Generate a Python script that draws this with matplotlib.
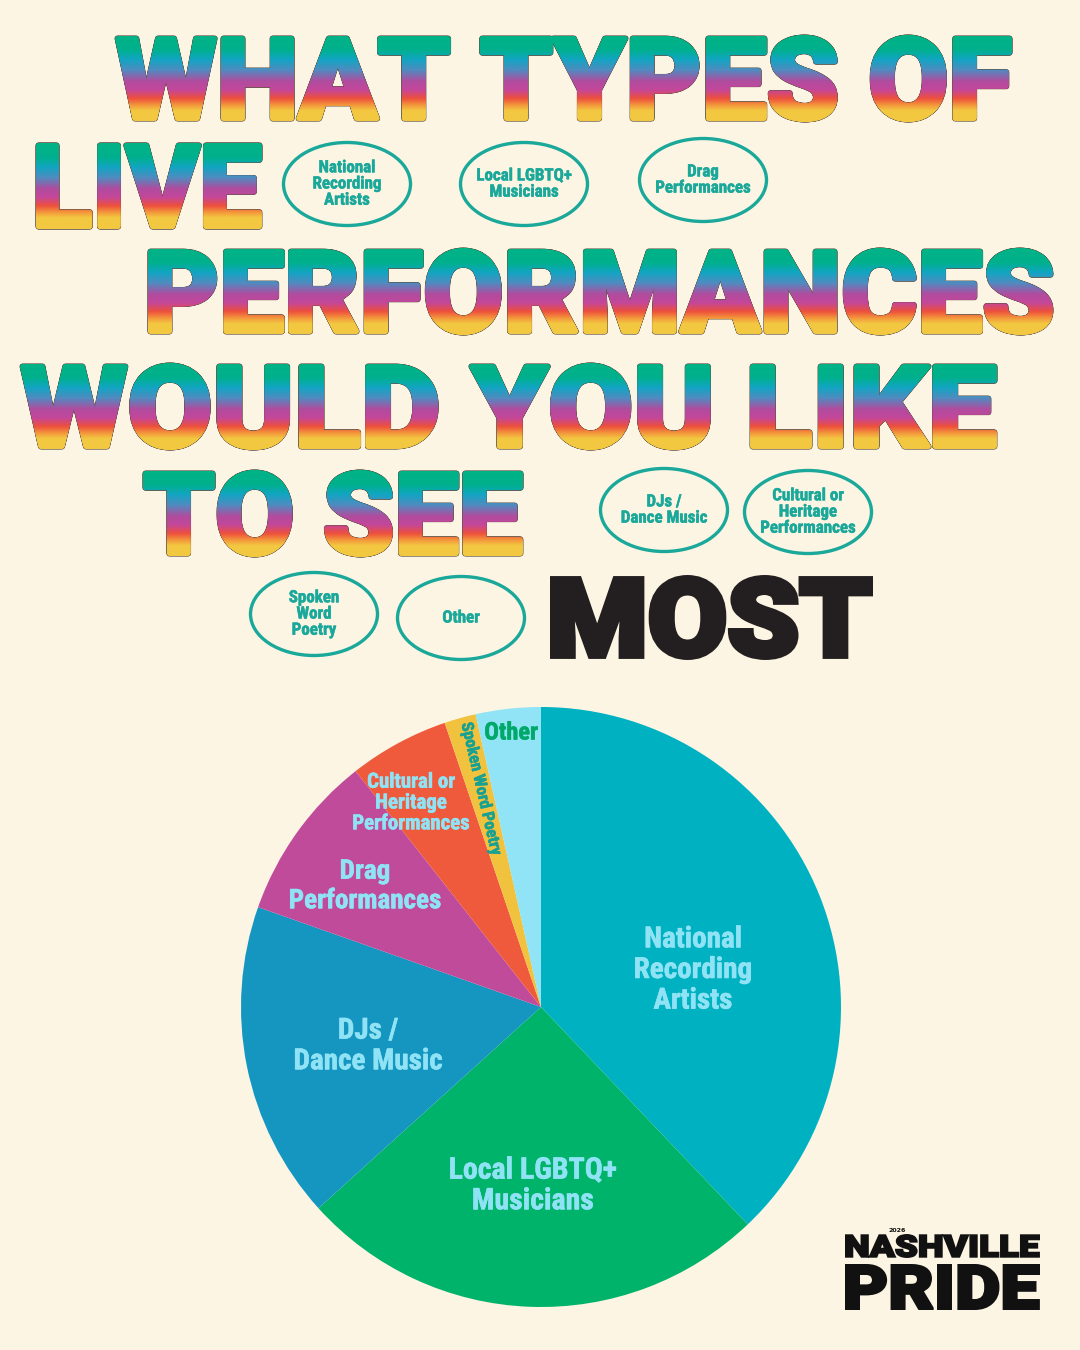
import numpy as np
import matplotlib.pyplot as plt
import matplotlib.patheffects as pe
from matplotlib import font_manager as fm
from matplotlib.textpath import TextPath
from matplotlib.font_manager import FontProperties
from matplotlib.patches import PathPatch, Ellipse
from matplotlib.transforms import Affine2D
from matplotlib.colors import LinearSegmentedColormap

# survey answers (percent of responses)
categories = ["National Recording Artists", "Local LGBTQ+ Musicians", "DJs / Dance Music",
              "Drag Performances", "Cultural or Heritage Performances",
              "Spoken Word Poetry", "Other"]
shares = [37.9, 25.4, 17.1, 9.0, 5.4, 1.7, 3.5]
slice_colors = ["#00B2C1", "#00B36A", "#1496C1", "#C04B9B", "#EF5A3D", "#F1C23E", "#90E4F6"]

pie_labels = ["National\nRecording\nArtists", "Local LGBTQ+\nMusicians", "DJs /\nDance Music",
              "Drag\nPerformances", "Cultural or\nHeritage\nPerformances",
              "Spoken Word Poetry", "Other"]
bubble_labels = ["National\nRecording\nArtists", "Local LGBTQ+\nMusicians", "DJs /\nDance Music",
                 "Drag\nPerformances", "Cultural or\nHeritage\nPerformances",
                 "Spoken\nWord\nPoetry", "Other"]

title_lines = ["WHAT TYPES OF", "LIVE", "PERFORMANCES", "WOULD YOU LIKE", "TO SEE"]

BG = "#FDF5E3"
TEAL = "#1AA89A"
LIGHT = "#8FE3F5"


def weight_of(f):
    w = f.weight
    if isinstance(w, str):
        w = fm.weight_dict.get(w, 400)
    return int(w)


def pick_font(families, condensed=False, target=900):
    best = None
    for rank, fam in enumerate(families):
        for f in fm.fontManager.ttflist:
            if f.name != fam or f.style != "normal":
                continue
            name = f.fname.lower()
            is_cond = ("condensed" in name or "narrow" in name or
                       (isinstance(f.stretch, str) and "condensed" in f.stretch))
            if is_cond != condensed:
                continue
            score = (-abs(weight_of(f) - target), -rank)
            if best is None or score > best[0]:
                best = (score, f.fname)
    if best is None:
        return FontProperties(family="DejaVu Sans", weight="bold")
    return FontProperties(fname=best[1])


heavy = pick_font(["Roboto", "Lato", "Inter", "Noto Sans", "Open Sans", "DejaVu Sans"])
cond = pick_font(["Roboto Condensed", "Liberation Sans Narrow", "Noto Sans", "Open Sans",
                  "DejaVu Sans"], condensed=True, target=800)
if cond.get_file() is None:
    cond = pick_font(["Roboto", "Lato", "Inter"], target=700)

rainbow = LinearSegmentedColormap.from_list("pride", [
    (0.00, "#00B385"), (0.17, "#00B08E"), (0.28, "#12A5C3"), (0.40, "#4F8CC0"),
    (0.53, "#B04C9F"), (0.63, "#C4479A"), (0.73, "#EE503C"), (0.81, "#F39A3C"),
    (0.87, "#F3C841"), (1.00, "#F3C841")])

fig = plt.figure(figsize=(10.8, 13.5), dpi=100, facecolor=BG)
ax = fig.add_axes([0, 0, 1, 1])
ax.set_xlim(0, 1080)
ax.set_ylim(1350, 0)
ax.axis("off")


def fitted_path(s, box, prop, pad=0):
    # text outline squeezed into a pixel box (x0, y0, x1, y1), y runs downwards
    x0, y0, x1, y1 = box
    tp = TextPath((0, 0), s, prop=prop, size=100)
    ext = tp.get_extents()
    tr = (Affine2D().translate(-ext.x0, -ext.y0)
          .scale((x1 - x0 - 2 * pad) / ext.width, -(y1 - y0 - 2 * pad) / ext.height)
          .translate(x0 + pad, y1 - pad))
    return tr.transform_path(tp)


def rainbow_text(s, box, grow=2.0):
    x0, y0, x1, y1 = box
    base = fitted_path(s, box, heavy, pad=grow)
    grad = np.linspace(0, 1, 256).reshape(-1, 1)
    shifts = [(0, 0)] + [(grow * np.cos(a), grow * np.sin(a))
                         for a in np.linspace(0, 2 * np.pi, 16, endpoint=False)]
    for dx, dy in shifts:
        p = Affine2D().translate(dx, dy).transform_path(base)
        ax.add_patch(PathPatch(p, facecolor="none", edgecolor="#5a4d40", lw=0.7, zorder=1))
        clip = PathPatch(p, facecolor="none", edgecolor="none")
        ax.add_patch(clip)
        im = ax.imshow(grad, cmap=rainbow, extent=[x0, x1, y1, y0], aspect="auto",
                       interpolation="bilinear", zorder=2)
        im.set_clip_path(clip)


def solid_text(s, box, color, grow):
    p = fitted_path(s, box, heavy, pad=grow)
    ax.add_patch(PathPatch(p, facecolor=color, edgecolor=color, lw=grow * 2 * 0.72,
                           joinstyle="miter", zorder=2))


title_boxes = [(115, 35, 1012, 122), (36, 143, 262, 229), (148, 248, 1053, 335),
               (20, 363, 997, 450), (143, 470, 523, 557)]
for line, b in zip(title_lines, title_boxes):
    rainbow_text(line, b)
ax.set_xlim(0, 1080)
ax.set_ylim(1350, 0)
solid_text("MOST", (550, 575, 873, 660), "#231F20", 3.0)

# answer bubbles
bubble_pos = [(347, 184), (524, 184), (664, 510), (703, 180), (808, 512), (314, 614), (461, 618)]
for lab, (cx, cy) in zip(bubble_labels, bubble_pos):
    ax.add_patch(Ellipse((cx, cy), 127, 83, facecolor="none", edgecolor=TEAL, lw=2.4, zorder=3))
    fp = cond.copy()
    fp.set_size(12.2)
    ax.text(cx, cy, lab, ha="center", va="center", color=TEAL, fontproperties=fp,
            linespacing=1.1, zorder=4,
            path_effects=[pe.withStroke(linewidth=0.35, foreground=TEAL)])

# logo
solid_text("NASHVILLE", (845, 1234, 1040, 1258), "#111111", 1.0)
solid_text("PRIDE", (845, 1264, 1040, 1310), "#111111", 1.5)
ax.text(897, 1233, "2026", ha="center", va="bottom", fontsize=4.5, fontweight="bold",
        color="#111111")

# pie
pax = fig.add_axes([241 / 1080, 43 / 1350, 600 / 1080, 600 / 1350])
pax.pie(shares, colors=slice_colors, startangle=90, counterclock=False, radius=1,
        wedgeprops=dict(linewidth=0))
pax.set_xlim(-1, 1)
pax.set_ylim(-1, 1)
pax.set_aspect("equal")
pax.axis("off")


def px(x, y):
    return (x - 541) / 300, (1007 - y) / 300


label_style = [
    (693, 970, 21, LIGHT, 0),
    (533, 1186, 21.5, LIGHT, 0),
    (368, 1046, 21, LIGHT, 0),
    (365, 886, 19.5, LIGHT, 0),
    (411, 803, 15, LIGHT, 0),
    (481, 789, 12, "#17A193", -77),
    (511, 733, 17.5, "#00A96A", 0),
]
for lab, (x, y, fs, col, rot) in zip(pie_labels, label_style):
    fp = cond.copy()
    fp.set_size(fs)
    pax.text(*px(x, y), lab, ha="center", va="center", color=col,
             fontproperties=fp, rotation=rot, linespacing=1.12,
             path_effects=[pe.withStroke(linewidth=0.4, foreground=col)])

fig.savefig("out.png", dpi=100, facecolor=BG)
